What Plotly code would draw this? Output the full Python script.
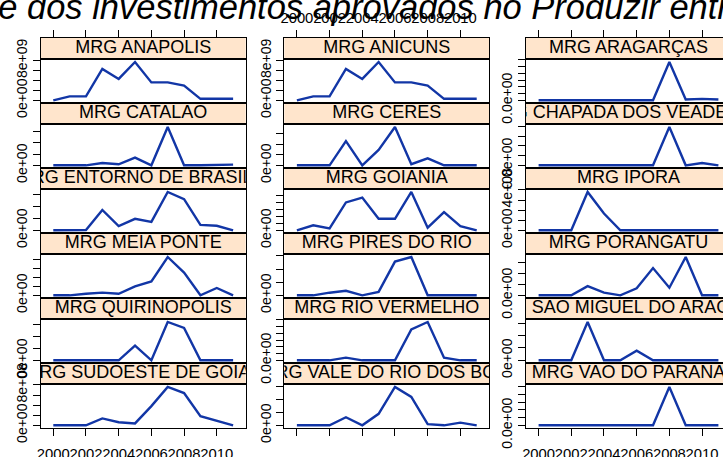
import plotly.graph_objects as go

# ---------------- data ----------------
years = list(range(2000, 2012))
x_tick_vals = [2000, 2002, 2004, 2006, 2008, 2010]

regions = [
    "MRG ANAPOLIS", "MRG ANICUNS", "MRG ARAGARÇAS",
    "MRG CATALAO", "MRG CERES", "MRG CHAPADA DOS VEADEIROS",
    "MRG ENTORNO DE BRASÍLIA", "MRG GOIANIA", "MRG IPORA",
    "MRG MEIA PONTE", "MRG PIRES DO RIO", "MRG PORANGATU",
    "MRG QUIRINOPOLIS", "MRG RIO VERMELHO", "MRG SAO MIGUEL DO ARAGUAIA",
    "MRG SUDOESTE DE GOIAS", "MRG VALE DO RIO DOS BOIS", "MRG VAO DO PARANA",
]

anapolis = [0, 0.8e9, 0.8e9, 6.3e9, 4.3e9, 7.7e9, 3.6e9, 3.6e9, 2.95e9, 0.3e9, 0.3e9, 0.3e9]
anicuns = [0, 0.8e9, 0.8e9, 6.3e9, 4.3e9, 7.7e9, 3.6e9, 3.6e9, 2.95e9, 0.3e9, 0.3e9, 0.3e9]
aragarcas = [0, 0, 0, 0, 0, 0, 0, 0, 2.85e9, 0.06e9, 0.11e9, 0.06e9]
catalao = [0, 0, 0, 0.2e9, 0.09e9, 0.68e9, 0, 3.4e9, 0, 0, 0.06e9, 0.06e9]
ceres = [0, 0, 0, 2.27e9, 0, 1.44e9, 3.6e9, 0.1e9, 0.65e9, 0, 0, 0]
chapada = [0, 0, 0, 0, 0, 0, 0, 0, 1.97e9, 0, 0.12e9, 0]
entorno = [0, 0, 0.03e9, 1.7e9, 0.35e9, 0.96e9, 0.7e9, 3.2e9, 2.6e9, 0.45e9, 0.38e9, 0]
goiania = [0, 0.72e9, 0.28e9, 4.0e9, 4.7e9, 1.65e9, 1.65e9, 5.5e9, 0.38e9, 2.6e9, 0.6e9, 0]
ipora = [0, 0, 0, 3.8e8, 1.67e8, 0, 0, 0, 0, 0, 0, 0]
meia_ponte = [0, 0, 0.17e9, 0.3e9, 0.17e9, 1.0e9, 1.55e9, 4.3e9, 2.55e9, 0, 0.82e9, 0]
pires_do_rio = [0, 0, 0.2e9, 0.35e9, 0, 0.26e9, 2.57e9, 2.92e9, 0, 0, 0, 0]
porangatu = [0, 0, 0, 0.42e9, 0.12e9, 0, 0.32e9, 1.25e9, 0.35e9, 1.76e9, 0, 0]
quirinopolis = [0, 0, 0, 0, 0, 1.22e9, 0, 3.2e9, 2.7e9, 0, 0, 0]
rio_vermelho = [0, 0, 0, 0.2e9, 0, 0, 0, 2.3e9, 2.85e9, 0.2e9, 0, 0]
sao_miguel = [0, 0, 0, 3.1e9, 0, 0, 0.78e9, 0, 0, 0, 0, 0]
sudoeste = [0, 0, 0, 1.37e8, 0.61e8, 0.38e8, 3.8e8, 7.6e8, 6.4e8, 1.8e8, 0.91e8, 0]
vale_rio_bois = [0, 0, 0, 0.63e9, 0, 0.9e9, 3.0e9, 2.22e9, 0.09e9, 0, 0.21e9, 0]
vao_parana = [0, 0, 0, 0, 0, 0, 0, 0, 2.47e9, 0, 0, 0]

series = [anapolis, anicuns, aragarcas, catalao, ceres, chapada, entorno, goiania, ipora,
          meia_ponte, pires_do_rio, porangatu, quirinopolis, rio_vermelho, sao_miguel,
          sudoeste, vale_rio_bois, vao_parana]

y_tick_vals = [
    [0, 2e9, 4e9, 6e9, 8e9], [0, 2e9, 4e9, 6e9, 8e9], [0, 0.5e9, 1e9, 1.5e9, 2e9, 2.5e9, 3e9],
    [0, 1e9, 2e9, 3e9], [0, 1e9, 2e9, 3e9], [0, 0.5e9, 1e9, 1.5e9, 2e9],
    [0, 1e9, 2e9, 3e9], [0, 1e9, 2e9, 3e9, 4e9, 5e9], [0, 1e8, 2e8, 3e8, 4e8],
    [0, 1e9, 2e9, 3e9, 4e9], [0, 1e9, 2e9, 3e9], [0, 0.5e9, 1e9, 1.5e9],
    [0, 1e9, 2e9, 3e9], [0, 0.5e9, 1e9, 1.5e9, 2e9, 2.5e9, 3e9], [0, 1e9, 2e9, 3e9],
    [0, 2e8, 4e8, 6e8, 8e8], [0, 1e9, 2e9, 3e9], [0, 0.5e9, 1e9, 1.5e9, 2e9, 2.5e9],
]
y_tick_text = [
    ["0e+00", "", "", "", "8e+09"], ["0e+00", "", "", "", "8e+09"], ["0.0e+00", "", "", "", "", "", ""],
    ["0e+00", "", "", ""], ["0e+00", "", "", ""], ["0.0e+00", "", "", "", ""],
    ["0e+00", "", "", ""], ["0e+00", "", "", "", "", ""], ["0e+00", "", "", "", "4e+08"],
    ["0e+00", "", "", "", ""], ["0e+00", "", "", ""], ["0.0e+00", "", "", ""],
    ["0e+00", "", "", ""], ["0.0e+00", "", "", "", "", "", ""], ["0e+00", "", "", ""],
    ["0e+00", "", "", "", "8e+08"], ["0e+00", "", "", ""], ["0.0e+00", "", "", "", "", ""],
]

title_text = ("Distribuição anual por microrregião do montante dos investimentos "
              "aprovados no Produzir entre 2000 e 2011")

# ---------------- layout geometry (pixels) ----------------
W, H = 723, 457
FONT = "Liberation Sans, Arial, sans-serif"
LINE_COLOR = "#1236a6"
STRIP_BG = "#ffe5cc"

COL_LEFT = [40.7, 284.3, 526.0]
COL_W = 205.0
ROW_TOP = 38.0
ROW_H = 65.0
STRIP_H = 21.3
PAD = 0.07
X0 = years[0] - PAD * (years[-1] - years[0])
X1 = years[-1] + PAD * (years[-1] - years[0])
PX_PER_YEAR = COL_W / (X1 - X0)


def fx(p):
    return p / W


def fy(p):
    return 1 - p / H


fig = go.Figure()
layout = dict(
    width=W, height=H,
    margin=dict(l=0, r=0, t=0, b=0, pad=0, autoexpand=False),
    paper_bgcolor="white", plot_bgcolor="white",
    showlegend=False,
    font=dict(family=FONT, color="black"),
    shapes=[], annotations=[],
)

axis_common = dict(showgrid=False, zeroline=False, showline=True, linecolor="black",
                   linewidth=1.2, tickcolor="black", tickwidth=1, ticklen=7,
                   fixedrange=True, automargin=False)

for i, name in enumerate(regions):
    r, c = divmod(i, 3)
    left = COL_LEFT[c]
    right = min(left + COL_W, W)
    xr = X0 + (right - left) / PX_PER_YEAR
    s_top = ROW_TOP + r * ROW_H
    s_bot = s_top + STRIP_H
    p_bot = s_top + ROW_H
    last_col = right < left + COL_W

    pk = 2 * i + 1   # panel axes index
    sk = 2 * i + 2   # strip axes index

    vals = series[i]
    vmin, vmax = min(vals), max(vals)
    rng = vmax - vmin

    # ----- panel -----
    bottom_row = (r == 5)
    layout[f"xaxis{pk}"] = dict(
        axis_common, domain=[fx(left), fx(right)], range=[X0, xr], anchor=f"y{pk}",
        mirror=True, ticks="outside" if bottom_row else "",
        tickvals=x_tick_vals, ticktext=[str(v) for v in x_tick_vals],
        showticklabels=bottom_row and c != 1, tickangle=0,
        tickfont=dict(size=14.8, family=FONT, color="black"),
        ticklabelstandoff=5,
    )
    layout[f"yaxis{pk}"] = dict(
        axis_common, domain=[fy(p_bot), fy(s_bot)],
        range=[vmin - PAD * rng, vmax + PAD * rng], anchor=f"x{pk}",
        mirror=not last_col, ticks="outside",
        tickvals=y_tick_vals[i], ticktext=y_tick_text[i], tickangle=-90,
        tickfont=dict(size=14, family=FONT, color="black"),
        ticklabelstandoff=0,
    )
    fig.add_trace(go.Scatter(
        x=years, y=vals, mode="lines", line=dict(color=LINE_COLOR, width=2.4),
        xaxis=f"x{pk}", yaxis=f"y{pk}", hoverinfo="skip",
    ))

    # ----- strip -----
    top_row = (r == 0)
    layout[f"xaxis{sk}"] = dict(
        axis_common, domain=[fx(left), fx(right)], range=[X0, xr], anchor=f"y{sk}",
        side="top", mirror=True, ticks="outside" if top_row else "",
        tickvals=x_tick_vals, ticktext=[str(v) for v in x_tick_vals],
        showticklabels=top_row and c == 1, tickangle=0,
        tickfont=dict(size=14.8, family=FONT, color="black"),
        ticklabelstandoff=1,
    )
    layout[f"yaxis{sk}"] = dict(
        axis_common, domain=[fy(s_bot), fy(s_top)], range=[0, 1], anchor=f"x{sk}",
        mirror=not last_col, ticks="", showticklabels=False,
    )
    layout["shapes"].append(dict(
        type="rect", xref=f"x{sk} domain", yref=f"y{sk} domain",
        x0=0, x1=1, y0=0, y1=1, fillcolor=STRIP_BG, line=dict(width=0), layer="below",
    ))
    fig.add_trace(go.Scatter(
        x=[(years[0] + years[-1]) / 2], y=[0.5], mode="text", text=[name],
        textposition="middle center",
        textfont=dict(size=18, family=FONT, color="black"),
        cliponaxis=True, xaxis=f"x{sk}", yaxis=f"y{sk}", hoverinfo="skip",
    ))

# title (cropped at top of image)
layout["annotations"].append(dict(
    text=f"<i>{title_text}</i>", xref="paper", yref="paper",
    x=fx(949), y=fy(7.0), xanchor="right", yanchor="middle", showarrow=False,
    font=dict(size=34.5, family=FONT, color="black"),
))

fig.update_layout(**layout)
fig.write_html(
    "out.html",
    config={"displayModeBar": False},
    post_script="document.body.style.margin='0px';document.body.style.overflow='hidden';",
)
